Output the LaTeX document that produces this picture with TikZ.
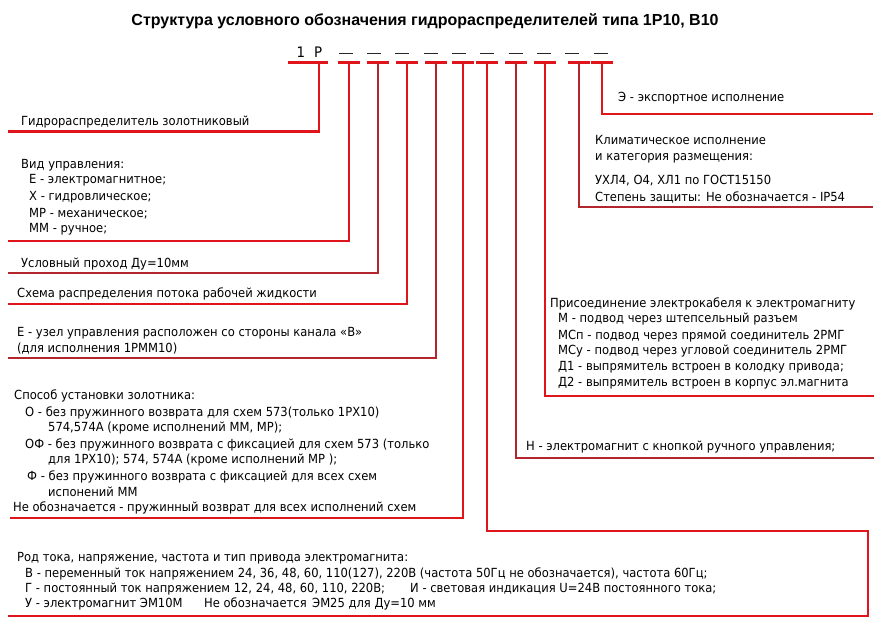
\documentclass[tikz,border=0pt]{standalone}
\usepackage{fontspec}
\setmainfont[FakeStretch=0.92]{DejaVu Sans}
\newfontfamily\titlefont{Liberation Sans}
\definecolor{lred}{HTML}{E0141B}
\definecolor{dred}{HTML}{B3262E}
\begin{document}
\begin{tikzpicture}[x=1pt,y=-1pt,
  lab/.style={anchor=base west,inner sep=0pt,font=\fontsize{12.55}{15}\selectfont},
  rl/.style={draw=lred,line width=2.5pt},
  dl/.style={draw=dred,line width=2.5pt},
  dashline/.style={draw=black!85,line width=1pt}]
\useasboundingbox[fill=white] (0,0) rectangle (881,630);
% title
\node[anchor=base,inner sep=0pt,font=\titlefont\bfseries\fontsize{16}{18}\selectfont] (title) at (425,25.5) {Структура условного обозначения гидрораспределителей типа 1Р10, В10};
% code
\node[lab,font=\fontsize{14.5}{16}\selectfont] (code) at (296.5,57.5) {1\hspace{9pt}P};
\foreach \k in {0,...,9}{
  \draw[dashline] ({338.8+28.3*\k},53.5) -- ({352.8+28.3*\k},53.5);
}
% T junction coordinates
\foreach \n/\x in {1/319,2/349,3/378,4/407,5/436,6/463,7/487,8/516,9/545,10/579,11/602}{
  \coordinate (t\n) at (\x,62.5);
}
\coordinate (e1) at (8,131.5);
\coordinate (e2) at (8,241);
\coordinate (e3) at (8,273);
\coordinate (e4) at (8,304);
\coordinate (e5) at (8,358);
\coordinate (e6) at (10,518);
\coordinate (e7a) at (868,531);
\coordinate (e7b) at (868,616);
\coordinate (e7c) at (8,616);
\coordinate (e8) at (874,458);
\coordinate (e9) at (874,396);
\coordinate (e10) at (873,207);
\coordinate (e11) at (873,114);
% T bars
\draw[rl] (288,62.5) -- (328,62.5);
\foreach \n/\x in {2/349,3/378,4/407,5/436,6/463,7/487,8/516,9/545,10/579,11/602}{
  \draw[rl] ({\x-11},62.5) -- ({\x+11},62.5);
}
% connectors
\draw[rl] (t1) |- (e1);
\draw[rl] (t2) |- (e2);
\draw[dl] (t3) |- (e3);
\draw[rl] (t4) |- (e4);
\draw[dl] (t5) |- (e5);
\draw[rl] (t6) |- (e6);
\draw[rl] (t7) |- (e7a) -- (e7b) -- (e7c);
\draw[dl] (t8) |- (e8);
\draw[rl] (t9) |- (e9);
\draw[dl] (t10) |- (e10);
\draw[rl] (t11) |- (e11);
% left texts
\node[lab] (a1) at (21,125.5) {Гидрораспределитель золотниковый};
\node[lab] (b0) at (21,168.5) {Вид управления:};
\node[lab] (b1) at (29,183.5) {Е - электромагнитное;};
\node[lab] (b2) at (29,200.5) {Х - гидровлическое;};
\node[lab] (b3) at (29,217) {МР - механическое;};
\node[lab] (b4) at (29,232.5) {ММ - ручное;};
\node[lab] (c1) at (21,267.5) {Условный проход Ду=10мм};
\node[lab] (d1) at (17,297.5) {Схема распределения потока рабочей жидкости};
\node[lab] (f1) at (17,336.5) {Е - узел управления расположен со стороны канала «В»};
\node[lab] (f2) at (17,352.5) {(для исполнения 1РММ10)};
\node[lab] (g0) at (14,399.5) {Способ установки золотника:};
\node[lab] (g1) at (25,416.5) {О - без пружинного возврата для схем 573(только 1РХ10)};
\node[lab] (g2) at (48,431.5) {574,574А (кроме исполнений ММ, МР);};
\node[lab] (g3) at (25,448.5) {ОФ - без пружинного возврата с фиксацией для схем 573 (только};
\node[lab] (g4) at (48,463.5) {для 1РХ10); 574, 574А (кроме исполнений МР );};
\node[lab] (g5) at (27,480.5) {Ф - без пружинного возврата с фиксацией для всех схем};
\node[lab] (g6) at (48,496.5) {испонений ММ};
\node[lab] (g7) at (13,511.5) {Не обозначается - пружинный возврат для всех исполнений схем};
% right texts
\node[lab] (k1) at (618,101.5) {Э - экспортное исполнение};
\node[lab] (j1) at (595,144.5) {Климатическое исполнение};
\node[lab] (j2) at (595,160.5) {и категория размещения:};
\node[lab] (j3) at (595,184.5) {УХЛ4, О4, ХЛ1 по ГОСТ15150};
\node[lab] (j4) at (595,201.5) {Степень защиты: Не обозначается - IP54};
\node[lab] (i0) at (550,307.5) {Присоединение электрокабеля к электромагниту};
\node[lab] (i1) at (558,322.5) {М - подвод через штепсельный разъем};
\node[lab] (i2) at (558,339) {МСп - подвод через прямой соединитель 2РМГ};
\node[lab] (i3) at (558,354.5) {МСу - подвод через угловой соединитель 2РМГ};
\node[lab] (i4) at (558,370.5) {Д1 - выпрямитель встроен в колодку привода;};
\node[lab] (i5) at (558,386.5) {Д2 - выпрямитель встроен в корпус эл.магнита};
\node[lab] (h1) at (526,450.5) {Н - электромагнит с кнопкой ручного управления;};
% bottom texts
\node[lab] (m0) at (17,561.5) {Род тока, напряжение, частота и тип привода электромагнита:};
\node[lab] (m1) at (25,577.5) {В - переменный ток напряжением 24, 36, 48, 60, 110(127), 220В (частота 50Гц не обозначается), частота 60Гц;};
\node[lab] (m2) at (25,592.5) {Г - постоянный ток напряжением 12, 24, 48, 60, 110, 220В;};
\node[lab] (m3) at (410,592.5) {И - световая индикация U=24В постоянного тока;};
\node[lab] (m4) at (25,607.5) {У - электромагнит ЭМ10М};
\node[lab] (m5) at (204,607.5) {Не обозначается};
\node[lab] (m6) at (312,607.5) {ЭМ25 для Ду=10 мм};
\end{tikzpicture}
\end{document}
